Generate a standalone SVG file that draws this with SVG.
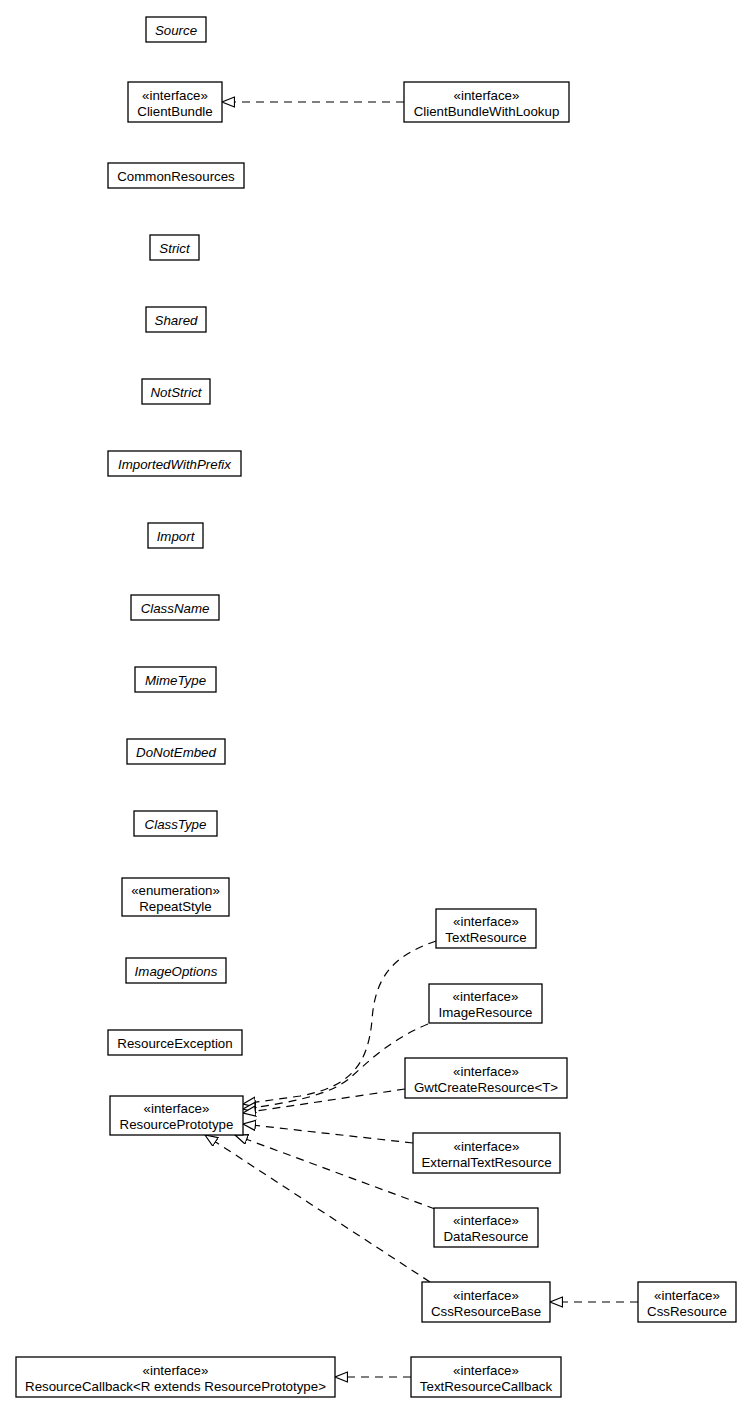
<svg xmlns="http://www.w3.org/2000/svg" width="751" height="1408" viewBox="0 0 751 1408">
<style>
  .box { fill: #ffffff; stroke: #000000; stroke-width: 1.3; }
  text { font-family: "Liberation Sans", Arial, Helvetica, sans-serif; font-size: 13.3px; fill: #000000; text-anchor: middle; }
  .it { font-style: italic; }
  .edge { fill: none; stroke: #000000; stroke-width: 1.2; stroke-dasharray: 8,6; }
</style>
<defs>
  <marker id="realize" markerUnits="userSpaceOnUse" markerWidth="15" markerHeight="13" refX="13" refY="5.5" orient="auto">
    <path d="M0.5,0.5 L13,5.5 L0.5,10.5 Z" fill="#ffffff" stroke="#000000" stroke-width="1.2" stroke-dasharray="none"/>
  </marker>
</defs>
<rect width="751" height="1408" fill="#ffffff"/>

<g id="connectors">
  <path class="edge" d="M404,102 L222,102" marker-end="url(#realize)"/>
  <path class="edge" d="M436,941 C395,955 375,975 372,1020 C368,1065 350,1087 300,1096 L243,1104" marker-end="url(#realize)"/>
  <path class="edge" d="M428,1024 C390,1040 370,1060 350,1078 C330,1095 290,1103 243,1109" marker-end="url(#realize)"/>
  <path class="edge" d="M405,1089 L243,1113" marker-end="url(#realize)"/>
  <path class="edge" d="M413,1143 L243,1124" marker-end="url(#realize)"/>
  <path class="edge" d="M435,1209 L235,1135" marker-end="url(#realize)"/>
  <path class="edge" d="M430,1282 L205,1135" marker-end="url(#realize)"/>
  <path class="edge" d="M638,1302 L550,1302" marker-end="url(#realize)"/>
  <path class="edge" d="M411,1377 L335,1377" marker-end="url(#realize)"/>
</g>

<g id="Source"><rect class="box" x="146" y="17" width="60" height="25"/><text class="it" x="176" y="34.5">Source</text></g>
<g id="ClientBundle"><rect class="box" x="128" y="82" width="94" height="40"/><text x="175" y="100">«interface»</text><text x="175" y="116">ClientBundle</text></g>
<g id="ClientBundleWithLookup"><rect class="box" x="404" y="82" width="165" height="40"/><text x="486.5" y="100">«interface»</text><text x="486.5" y="116">ClientBundleWithLookup</text></g>
<g id="CommonResources"><rect class="box" x="108" y="163" width="136" height="25"/><text x="176" y="180.5">CommonResources</text></g>
<g id="Strict"><rect class="box" x="150" y="235" width="49" height="25"/><text class="it" x="174.5" y="252.5">Strict</text></g>
<g id="Shared"><rect class="box" x="146" y="307" width="60" height="25"/><text class="it" x="176" y="324.5">Shared</text></g>
<g id="NotStrict"><rect class="box" x="142" y="379" width="68" height="25"/><text class="it" x="176" y="396.5">NotStrict</text></g>
<g id="ImportedWithPrefix"><rect class="box" x="108" y="451" width="133" height="25"/><text class="it" x="174.5" y="468.5">ImportedWithPrefix</text></g>
<g id="Import"><rect class="box" x="148" y="523" width="55" height="25"/><text class="it" x="175.5" y="540.5">Import</text></g>
<g id="ClassName"><rect class="box" x="131" y="595" width="88" height="25"/><text class="it" x="175" y="612.5">ClassName</text></g>
<g id="MimeType"><rect class="box" x="135" y="667" width="81" height="25"/><text class="it" x="175.5" y="684.5">MimeType</text></g>
<g id="DoNotEmbed"><rect class="box" x="127" y="739" width="98" height="25"/><text class="it" x="176" y="756.5">DoNotEmbed</text></g>
<g id="ClassType"><rect class="box" x="134" y="811" width="83" height="25"/><text class="it" x="175.5" y="828.5">ClassType</text></g>
<g id="RepeatStyle"><rect class="box" x="122" y="878" width="107" height="38"/><text x="175.5" y="895">«enumeration»</text><text x="175.5" y="911">RepeatStyle</text></g>
<g id="ImageOptions"><rect class="box" x="126" y="958" width="100" height="25"/><text class="it" x="176" y="975.5">ImageOptions</text></g>
<g id="ResourceException"><rect class="box" x="108" y="1030" width="134" height="25"/><text x="175" y="1047.5">ResourceException</text></g>
<g id="ResourcePrototype"><rect class="box" x="110" y="1096" width="133" height="39"/><text x="176.5" y="1113">«interface»</text><text x="176.5" y="1129">ResourcePrototype</text></g>
<g id="TextResource"><rect class="box" x="436" y="909" width="100" height="39"/><text x="486" y="926">«interface»</text><text x="486" y="942">TextResource</text></g>
<g id="ImageResource"><rect class="box" x="429" y="984" width="113" height="39"/><text x="485.5" y="1001">«interface»</text><text x="485.5" y="1017">ImageResource</text></g>
<g id="GwtCreateResource"><rect class="box" x="405" y="1058" width="162" height="40"/><text x="486" y="1076">«interface»</text><text x="486" y="1092">GwtCreateResource&lt;T&gt;</text></g>
<g id="ExternalTextResource"><rect class="box" x="413" y="1133" width="147" height="40"/><text x="486.5" y="1151">«interface»</text><text x="486.5" y="1167">ExternalTextResource</text></g>
<g id="DataResource"><rect class="box" x="434" y="1208" width="104" height="39"/><text x="486" y="1225">«interface»</text><text x="486" y="1241">DataResource</text></g>
<g id="CssResourceBase"><rect class="box" x="422" y="1282" width="128" height="40"/><text x="486" y="1300">«interface»</text><text x="486" y="1316">CssResourceBase</text></g>
<g id="CssResource"><rect class="box" x="638" y="1282" width="98" height="40"/><text x="687" y="1300">«interface»</text><text x="687" y="1316">CssResource</text></g>
<g id="ResourceCallback"><rect class="box" x="16" y="1357" width="319" height="40"/><text x="175.5" y="1375">«interface»</text><text x="175.5" y="1391">ResourceCallback&lt;R extends ResourcePrototype&gt;</text></g>
<g id="TextResourceCallback"><rect class="box" x="411" y="1357" width="150" height="40"/><text x="486" y="1375">«interface»</text><text x="486" y="1391">TextResourceCallback</text></g>
</svg>
